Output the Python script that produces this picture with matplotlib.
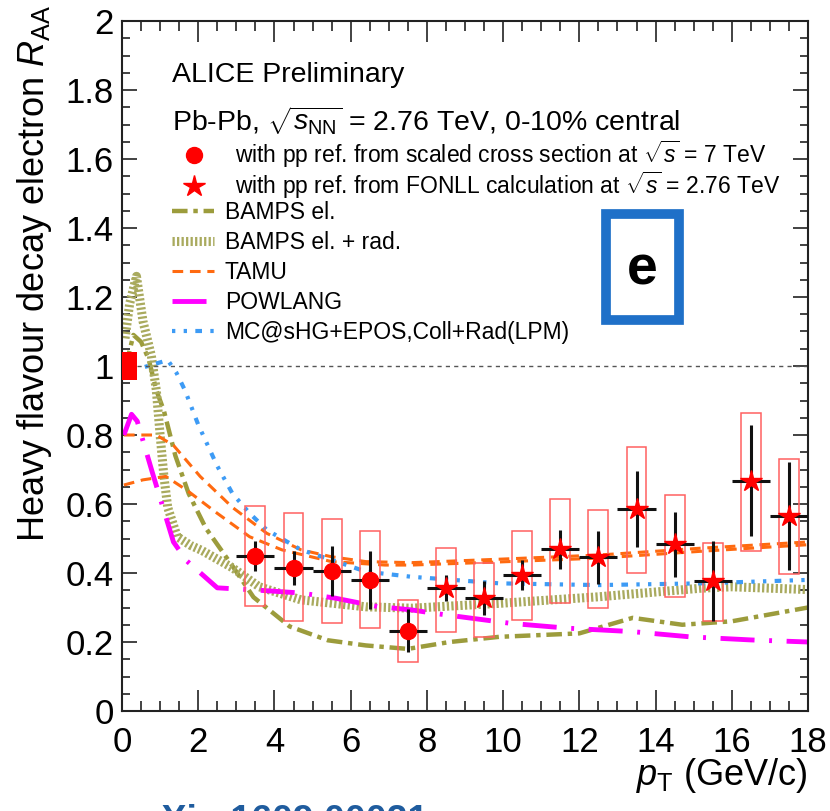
import numpy as np
import matplotlib
matplotlib.use("Agg")
import matplotlib.pyplot as plt
from matplotlib.lines import Line2D
from matplotlib.patches import Rectangle
from matplotlib.ticker import MultipleLocator, FuncFormatter

plt.rcParams['font.family'] = ['Liberation Sans', 'DejaVu Sans']
plt.rcParams['mathtext.fontset'] = 'custom'
plt.rcParams['mathtext.rm'] = 'Liberation Sans'
plt.rcParams['mathtext.it'] = 'Liberation Sans:italic'
plt.rcParams['mathtext.bf'] = 'Liberation Sans:bold'

# data points, pp ref from scaled 7 TeV cross section
pt_circ = [3.5, 4.5, 5.5, 6.5, 7.5]
raa_circ = [0.450, 0.415, 0.406, 0.380, 0.233]
stat_circ = [0.044, 0.050, 0.072, 0.085, 0.063]
sys_lo_circ = [0.304, 0.260, 0.255, 0.240, 0.143]
sys_hi_circ = [0.594, 0.573, 0.557, 0.522, 0.323]

# data points, pp ref from FONLL at 2.76 TeV
pt_star = [8.5, 9.5, 10.5, 11.5, 12.5, 13.5, 14.5, 15.5, 16.5, 17.5]
raa_star = [0.356, 0.327, 0.394, 0.469, 0.445, 0.586, 0.483, 0.377, 0.668, 0.565]
stat_star = [0.037, 0.049, 0.044, 0.057, 0.077, 0.110, 0.094, 0.116, 0.162, 0.156]
sys_lo_star = [0.230, 0.214, 0.264, 0.312, 0.300, 0.399, 0.331, 0.262, 0.464, 0.397]
sys_hi_star = [0.473, 0.430, 0.522, 0.614, 0.584, 0.764, 0.626, 0.488, 0.863, 0.730]

pt_binhalf = 0.5
sys_halfwidth = 0.26
norm_x = [0.0, 0.4]
norm_y = [0.96, 1.04]

# models
bamps_el_pt = [0.1, 0.3, 0.5, 0.7, 0.9, 1.1, 1.4, 1.75, 2.2, 2.9, 3.45, 4.4, 5.4, 6.4, 7.5, 8.6, 9.9, 12.0, 13.4, 14.7, 16.0, 18.0]
bamps_el = [1.00, 1.09, 1.07, 1.02, 0.93, 0.87, 0.74, 0.63, 0.53, 0.42, 0.33, 0.245, 0.205, 0.19, 0.18, 0.20, 0.215, 0.225, 0.27, 0.25, 0.26, 0.30]

bamps_rad_pt = [0.08, 0.2, 0.38, 0.55, 0.77, 0.9, 1.0, 1.1, 1.2, 1.45, 1.8, 2.1, 2.9, 3.6, 4.7, 6.4, 7.6, 9.9, 12.5, 15.2, 16.0, 18.0]
bamps_rad = [1.08, 1.18, 1.26, 1.13, 1.03, 0.93, 0.80, 0.68, 0.59, 0.505, 0.48, 0.465, 0.415, 0.36, 0.322, 0.302, 0.298, 0.312, 0.331, 0.356, 0.36, 0.352]

tamu_up_pt = [0.05, 0.9, 1.35, 2.05, 2.9, 3.8, 4.7, 5.5, 6.4, 7.6, 9.9, 12.5, 15.2, 18.0]
tamu_up = [0.80, 0.80, 0.77, 0.68, 0.59, 0.515, 0.467, 0.447, 0.433, 0.43, 0.44, 0.452, 0.472, 0.49]
tamu_lo_pt = [0.05, 0.55, 1.15, 1.7, 2.5, 3.35, 4.2, 5.5, 6.9, 7.6, 9.9, 12.5, 15.2, 18.0]
tamu_lo = [0.655, 0.67, 0.68, 0.64, 0.573, 0.505, 0.467, 0.433, 0.423, 0.423, 0.432, 0.443, 0.463, 0.482]

powlang_pt = [0.05, 0.25, 0.4, 0.8, 1.35, 1.7, 2.5, 3.6, 4.7, 5.6, 6.7, 7.6, 8.2, 10.2, 11.7, 13.4, 14.9, 16.5, 18.0]
powlang = [0.80, 0.86, 0.84, 0.69, 0.49, 0.435, 0.357, 0.35, 0.342, 0.327, 0.303, 0.293, 0.283, 0.254, 0.24, 0.23, 0.215, 0.206, 0.20]

mc_pt = [0.3, 0.5, 0.77, 1.2, 1.43, 1.65, 2.0, 2.5, 2.9, 3.35, 3.8, 4.7, 5.5, 6.4, 7.6, 9.9, 12.5, 15.2, 18.0]
mc = [0.99, 0.994, 1.003, 1.017, 0.98, 0.93, 0.83, 0.71, 0.63, 0.573, 0.525, 0.467, 0.438, 0.404, 0.389, 0.37, 0.365, 0.37, 0.38]

olive = '#9c9c3c'
olive_l = '#a9aa5e'
orange = '#ff6a10'
magenta = '#ff00ff'
blue = '#3d9bf5'
red = '#ff0000'
boxred = '#ff6060'

fig = plt.figure(figsize=(8.3, 8.11), dpi=100)
ax = fig.add_axes([122/830, 1-711/811, 686/830, 690/811])

# models
l_el, = ax.plot(bamps_el_pt, bamps_el, color=olive, lw=3.2, ls=(0, (3.5, 1.3, 1.0, 1.3)))
l_rad, = ax.plot(bamps_rad_pt, bamps_rad, color=olive_l, lw=6.5, ls=(0, (0.25, 0.25)))
l_tamu, = ax.plot(tamu_up_pt, tamu_up, color=orange, lw=2.2, ls=(0, (3.5, 2.2)))
ax.plot(tamu_lo_pt, tamu_lo, color=orange, lw=2.2, ls=(0, (3.5, 2.2)))
l_pow, = ax.plot(powlang_pt, powlang, color=magenta, lw=3.5, ls=(0, (7, 3, 0.6, 3)))
l_mc, = ax.plot(mc_pt, mc, color=blue, lw=3.0, ls=(0, (0.8, 2.0, 0.8, 2.0, 1.6, 2.0)))

# reference line and normalisation uncertainty
ax.hlines(1.0, norm_x[1], 18, colors='#555555', lw=1.0, ls=(0, (3, 3)))
ax.bar(np.mean(norm_x), norm_y[1]-norm_y[0], bottom=norm_y[0], width=norm_x[1]-norm_x[0],
       align='center', color=red, lw=0, zorder=6)

# systematic boxes
for pts, lo, hi in [(pt_circ, sys_lo_circ, sys_hi_circ), (pt_star, sys_lo_star, sys_hi_star)]:
    ax.bar(pts, np.array(hi) - np.array(lo), bottom=lo, width=2*sys_halfwidth,
           fill=False, edgecolor=boxred, lw=1.1, zorder=3)

# statistical errors
ax.errorbar(pt_circ, raa_circ, yerr=stat_circ, xerr=pt_binhalf, fmt='none', ecolor='#111111',
            elinewidth=2.2, capsize=0, zorder=4)
ax.errorbar(pt_star, raa_star, yerr=stat_star, xerr=pt_binhalf, fmt='none', ecolor='#111111',
            elinewidth=2.2, capsize=0, zorder=4)
ax.plot(pt_circ, raa_circ, 'o', color=red, ms=11.5, mec=red, zorder=5)
ax.plot(pt_star, raa_star, '*', color=red, ms=16, mec=red, zorder=5)

ax.set_xlim(0, 18)
ax.set_ylim(0, 2)
ax.xaxis.set_major_locator(MultipleLocator(2))
ax.xaxis.set_minor_locator(MultipleLocator(0.5))
ax.yaxis.set_major_locator(MultipleLocator(0.2))
ax.yaxis.set_minor_locator(MultipleLocator(0.05))
ax.yaxis.set_major_formatter(FuncFormatter(lambda v, p: '%g' % round(v, 2)))
ax.tick_params(which='both', direction='in', top=True, right=True, colors='#222222', width=1.2)
ax.tick_params(axis='x', which='major', length=15, labelsize=25, pad=11, labelcolor='black')
ax.tick_params(axis='x', which='minor', length=7)
ax.tick_params(axis='y', which='major', length=11, labelsize=25, pad=6, labelcolor='black')
ax.tick_params(axis='y', which='minor', length=5.5)
for s in ax.spines.values():
    s.set_linewidth(1.5)
    s.set_color('#222222')

fig.text(35/830, 1-4/811, 'Heavy flavour decay electron $R_{\\rm AA}$', rotation=90,
         ha='center', va='top', fontsize=26)
fig.text(808/830, 1-785/811, '$p_{\\rm T}$ (GeV/c)', ha='right', va='baseline', fontsize=26)

ax.text(0.0729, 0.9116, 'ALICE Preliminary', transform=ax.transAxes, fontsize=20.5, va='baseline')
ax.text(0.0729, 0.842, 'Pb-Pb, $\\sqrt{s_{\\rm NN}}$ = 2.76 TeV, 0-10% central',
        transform=ax.transAxes, fontsize=20.5, va='baseline')

h_circ = Line2D([], [], marker='o', color=red, ls='none', ms=11.5)
h_star = Line2D([], [], marker='*', color=red, ls='none', ms=16)
leg1 = ax.legend([h_circ, h_star],
                 ['with pp ref. from scaled cross section at $\\sqrt{s}$ = 7 TeV',
                  'with pp ref. from FONLL calculation at $\\sqrt{s}$ = 2.76 TeV'],
                 loc='upper left', bbox_to_anchor=(0.0729, 0.830), frameon=False,
                 fontsize=16.5, handlelength=1.95, handletextpad=0.8, borderpad=0,
                 borderaxespad=0, labelspacing=0.0)
ax.add_artist(leg1)
ax.legend([l_el, l_rad, l_tamu, l_pow, l_mc],
          ['BAMPS el.', 'BAMPS el. + rad.', 'TAMU', 'POWLANG', 'MC@sHG+EPOS,Coll+Rad(LPM)'],
          loc='upper left', bbox_to_anchor=(0.0729, 0.739), frameon=False,
          fontsize=16.5, handlelength=1.85, handletextpad=0.45, borderpad=0,
          borderaxespad=0, labelspacing=0.30)

# panel tag
ax.add_patch(Rectangle((0.705, 0.567), 0.1075, 0.154, transform=ax.transAxes, fill=False,
                       edgecolor='#1f70c8', lw=7, zorder=6))
ax.text(0.758, 0.639, 'e', transform=ax.transAxes, fontsize=40, fontweight='bold',
        ha='center', va='center', zorder=7)

fig.text(127/830, 1-804/811, 'arXiv:1609.00021', color='#1f5c9e', fontsize=27,
         fontweight='bold', ha='left', va='top')

fig.savefig('out.png', dpi=100)
